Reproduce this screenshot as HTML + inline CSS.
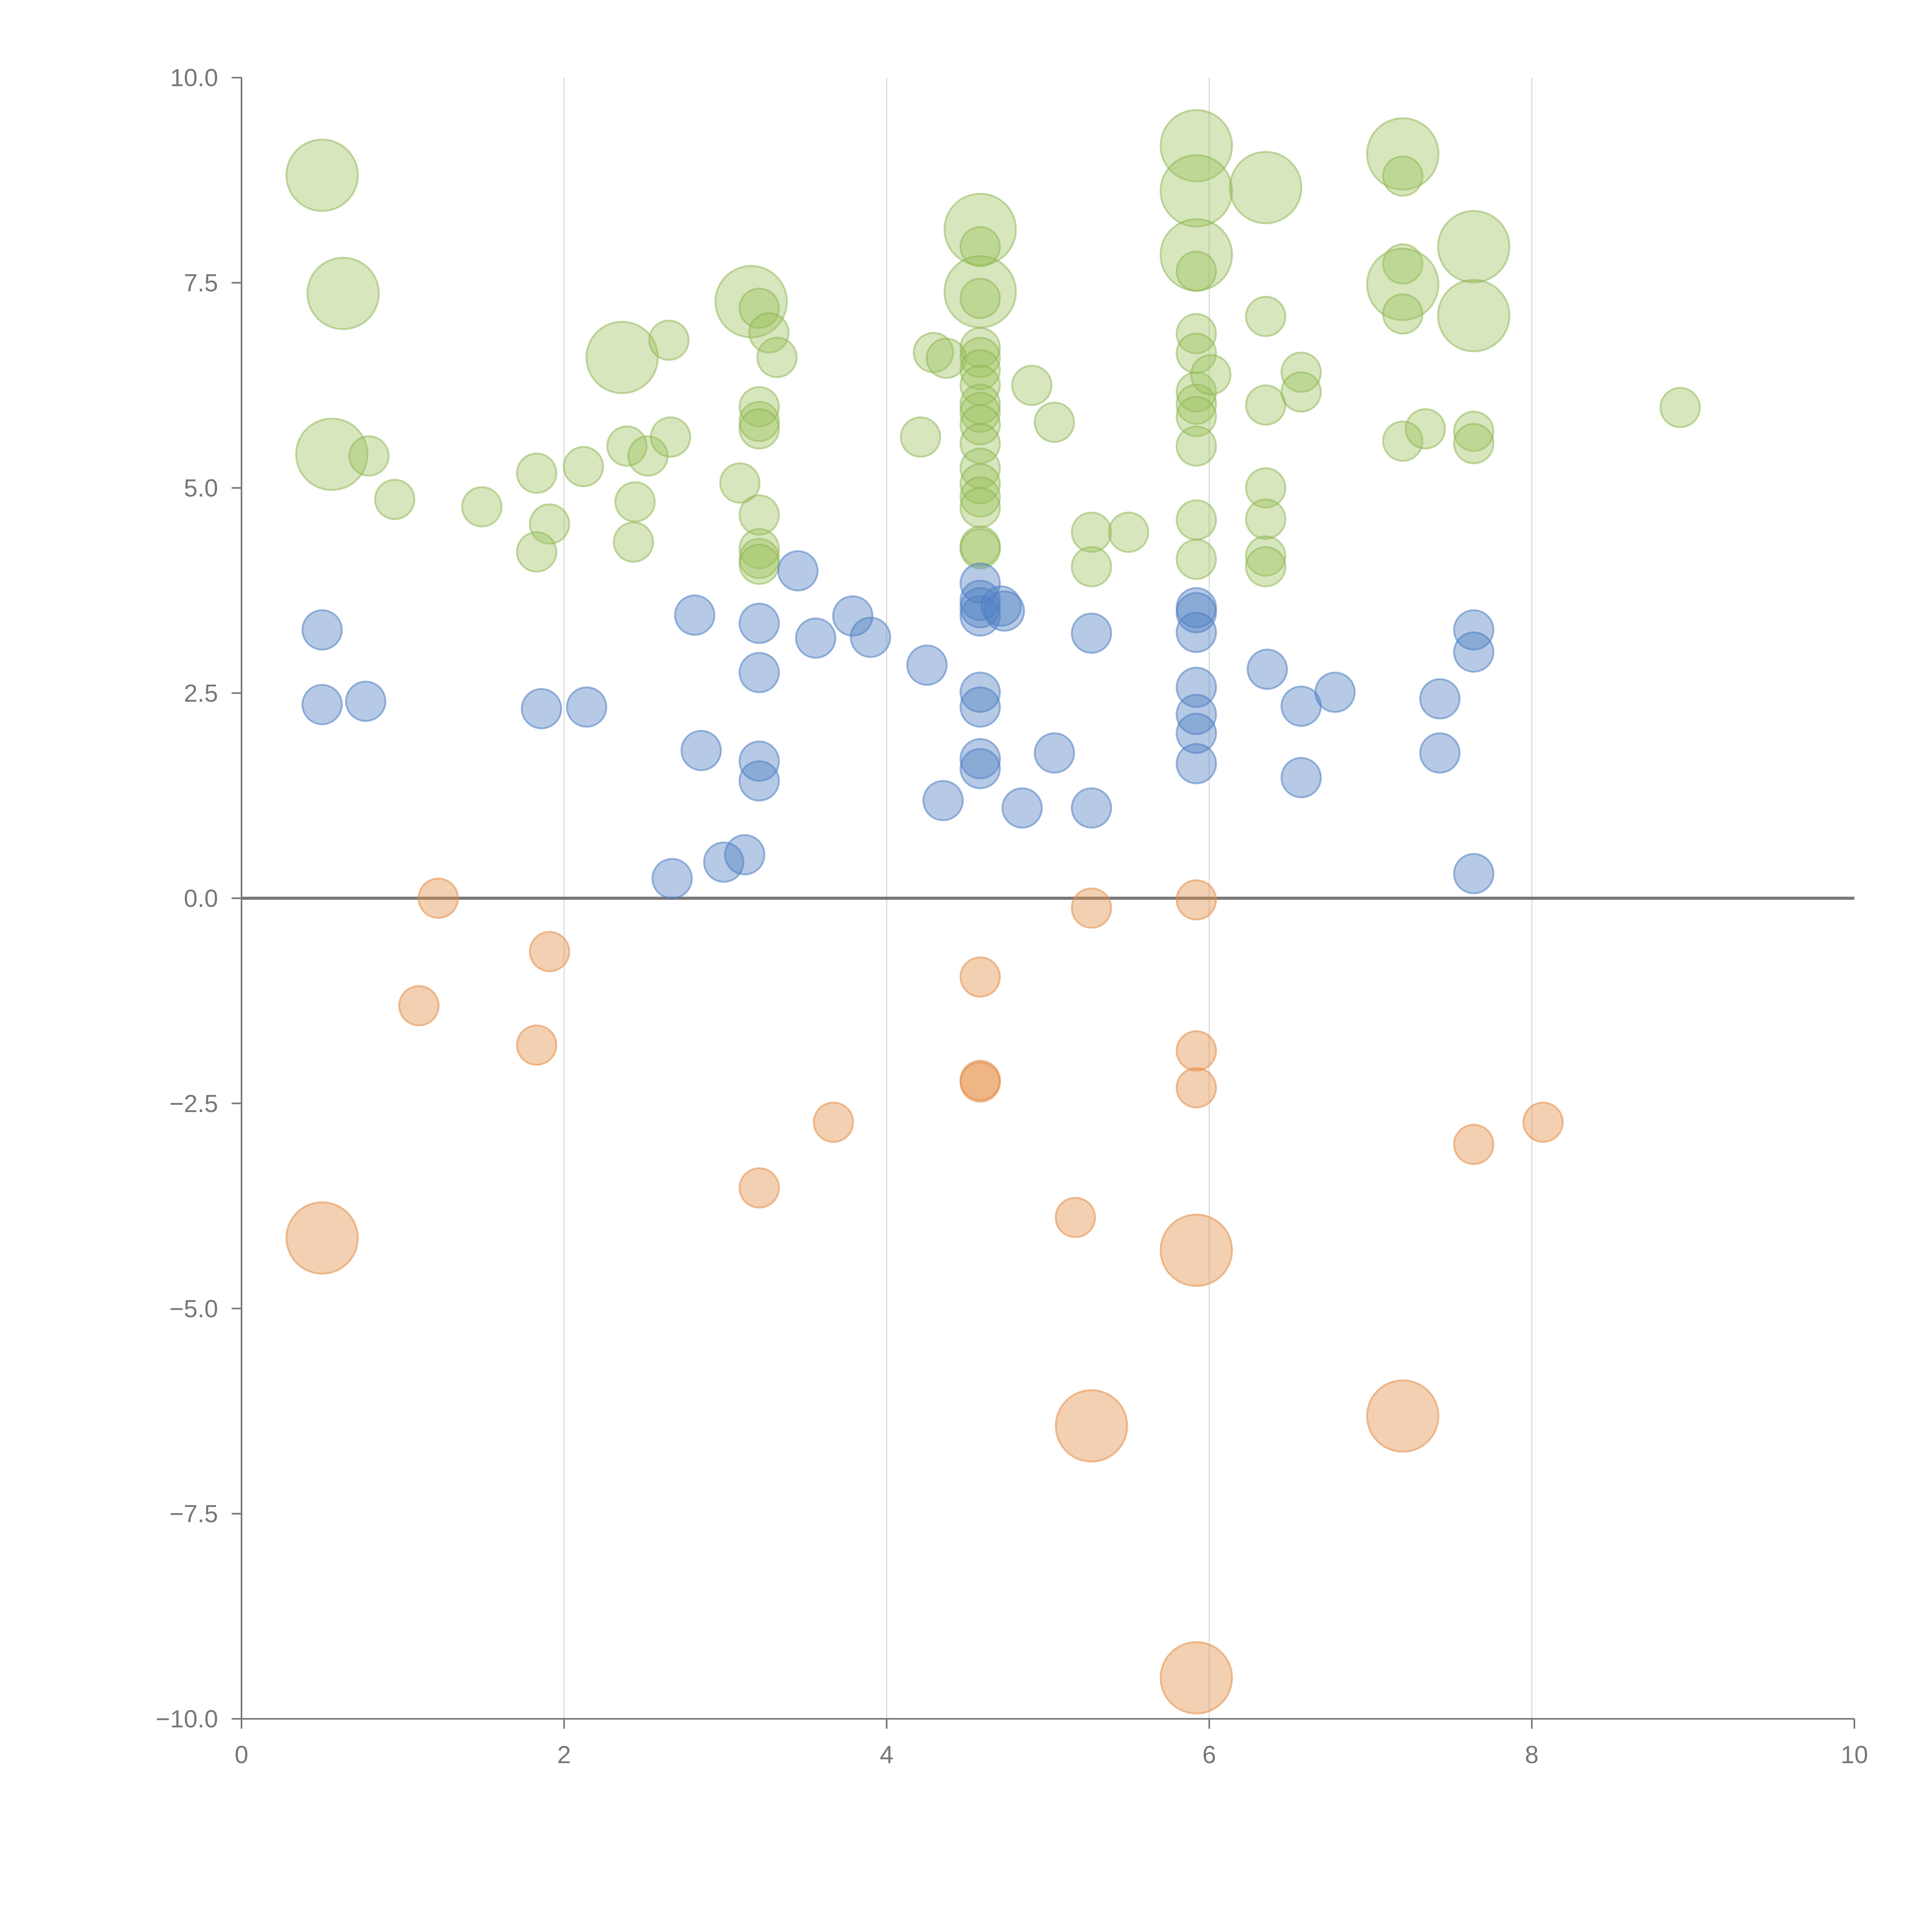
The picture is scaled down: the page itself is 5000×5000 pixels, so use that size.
<!DOCTYPE html>
<html><head><meta charset="utf-8"><style>
html,body{margin:0;padding:0;background:#fff;}
svg{display:block;}
text{font-family:"Liberation Sans",sans-serif;fill:#777;font-size:20px;}
</style></head><body>
<svg id="chart" width="5000" height="5000" viewBox="0 0 1568 1568" xmlns="http://www.w3.org/2000/svg">
<g id="grid"></g>
<g id="axes"></g>
<g id="marks"></g>
</svg>
<script>
const xTicks=[0,2,4,6,8,10];
const yTicks=[10,7.5,5,2.5,0,-2.5,-5,-7.5,-10];
const yTickLabels=["10.0","7.5","5.0","2.5","0.0","\u22122.5","\u22125.0","\u22127.5","\u221210.0"];
// green series: x, y, size (1 small, 2 large)
const greenX=[0.50,0.63,0.56,0.79,0.95,1.49,1.83,1.91,1.83,2.12,2.36,2.39,2.52,2.44,2.43,2.65,2.66,3.09,3.16,3.21,3.27,3.32,3.21,3.21,3.21,3.21,3.21,3.21,3.21,4.21,4.29,4.37,4.58,4.58,4.58,4.58,4.58,4.58,4.58,4.58,4.58,4.58,4.58,4.58,4.58,4.58,4.58,4.58,4.58,4.58,4.90,5.04,5.27,5.27,5.50,5.92,5.92,5.92,5.92,5.92,5.92,5.92,5.92,5.92,5.92,5.92,5.92,6.01,6.35,6.35,6.35,6.35,6.35,6.35,6.35,6.57,6.57,7.20,7.20,7.20,7.20,7.20,7.20,7.34,7.64,7.64,7.64,7.64,8.92];
const greenY=[8.81,7.37,5.41,5.39,4.86,4.77,5.18,4.56,4.22,5.26,6.59,5.51,5.39,4.83,4.34,6.80,5.62,5.06,7.27,7.19,6.89,6.59,5.99,5.81,5.72,4.67,4.26,4.14,4.07,5.62,6.65,6.58,8.15,7.94,7.39,7.31,6.71,6.59,6.44,6.25,6.02,5.92,5.77,5.54,5.24,5.05,4.89,4.76,4.29,4.26,6.25,5.80,4.46,4.04,4.46,9.17,8.62,7.84,7.64,6.88,6.64,6.17,6.02,5.87,5.51,4.61,4.13,6.38,8.66,7.09,6.01,5.00,4.62,4.17,4.04,6.41,6.17,9.07,8.80,7.73,7.48,7.12,5.57,5.72,7.94,7.10,5.69,5.54,5.98];
const greenS=[2,2,2,1,1,1,1,1,1,1,2,1,1,1,1,1,1,1,2,1,1,1,1,1,1,1,1,1,1,1,1,1,2,1,2,1,1,1,1,1,1,1,1,1,1,1,1,1,1,1,1,1,1,1,1,2,2,2,1,1,1,1,1,1,1,1,1,1,2,1,1,1,1,1,1,1,1,2,1,1,2,1,1,1,2,2,1,1,1];
const blueX=[0.50,0.50,0.77,1.86,2.14,2.81,2.85,2.67,2.99,3.12,3.21,3.21,3.21,3.21,3.45,3.56,3.79,3.90,4.25,4.35,4.58,4.58,4.58,4.58,4.71,4.73,4.58,4.58,4.58,4.58,4.84,5.04,5.27,5.27,5.92,5.92,5.92,5.92,5.92,5.92,5.92,6.36,6.57,6.57,6.78,7.43,7.43,7.64,7.64,7.64];
const blueY=[3.27,2.36,2.40,2.31,2.33,3.45,1.80,0.24,0.44,0.53,3.35,2.75,1.67,1.43,3.99,3.17,3.44,3.18,2.84,1.19,3.84,3.63,3.54,3.44,3.56,3.50,2.51,2.33,1.70,1.58,1.10,1.77,3.23,1.10,3.54,3.48,3.24,2.57,2.24,2.01,1.64,2.79,2.34,1.47,2.51,2.43,1.77,3.27,3.00,0.30];
const blueS=blueX.map(()=>1);
const orangeX=[1.22,1.91,1.10,1.83,0.50,3.21,3.67,4.58,4.58,4.58,5.17,5.27,5.27,5.92,5.92,5.92,5.92,5.92,7.20,7.64,8.07];
const orangeY=[0.00,-0.65,-1.31,-1.79,-4.14,-3.53,-2.73,-0.96,-2.22,-2.24,-3.89,-0.12,-6.43,-0.02,-1.86,-2.31,-4.29,-9.50,-6.31,-3.00,-2.73];
const orangeS=[1,1,1,1,2,1,1,1,1,1,1,1,2,1,1,1,2,2,2,1,1];

const X0=196,X1=1505,Y0=63,Y1=1395;
const sx=v=>X0+(v-0)/(10-0)*(X1-X0);
const sy=v=>Y0+(10-v)/20*(Y1-Y0);
const sr=s=>s===2?29:16;
const NS="http://www.w3.org/2000/svg";
function mk(tag,attrs,parent){const e=document.createElementNS(NS,tag);for(const k in attrs)e.setAttribute(k,attrs[k]);parent.appendChild(e);return e;}
const grid=document.getElementById('grid'),axes=document.getElementById('axes'),marks=document.getElementById('marks');
xTicks.forEach(t=>{
  if(t>0&&t<10){const l=mk('line',{x1:sx(t),x2:sx(t),y1:Y0,y2:Y1,stroke:'#ddd','stroke-width':1},grid);
  
  }
  const tk=mk('line',{x1:sx(t),x2:sx(t),y1:Y1,y2:Y1+8,stroke:'#777','stroke-width':1.3},axes);
  
  
  const tx=mk('text',{x:sx(t),y:Y1+36,'text-anchor':'middle'},axes);tx.textContent=t;
  
  
});
yTicks.forEach((t,i)=>{
  const tk=mk('line',{x1:X0-8,x2:X0,y1:sy(t),y2:sy(t),stroke:'#777','stroke-width':1.3},axes);
  
  
  const tx=mk('text',{x:X0-19,y:sy(t)+7,'text-anchor':'end'},axes);tx.textContent=yTickLabels[i];
  
  
});
const ya=mk('line',{x1:X0,x2:X0,y1:Y0,y2:Y1,stroke:'#777','stroke-width':1.3},axes);


const xa=mk('line',{x1:X0,x2:X1,y1:Y1,y2:Y1,stroke:'#777','stroke-width':1.3},axes);


const zl=mk('line',{x1:X0,x2:X1,y1:sy(0),y2:sy(0),stroke:'#777','stroke-width':2.5},axes);


function series(xs,ys,ss,fill,stroke,name){
  xs.forEach((x,i)=>{
    const c=mk('circle',{cx:sx(x),cy:sy(ys[i]),r:sr(ss[i]),fill:fill,stroke:stroke,'stroke-width':1.5},marks);
    
    
  });
}
series(greenX,greenY,greenS,'rgba(155,192,90,0.4)','rgba(140,180,80,0.5)','green-bubble');
series(blueX,blueY,blueS,'rgba(80,128,195,0.42)','rgba(80,128,195,0.55)','blue-bubble');
series(orangeX,orangeY,orangeS,'rgba(228,142,72,0.42)','rgba(228,142,72,0.55)','orange-bubble');
</script>
</body></html>
